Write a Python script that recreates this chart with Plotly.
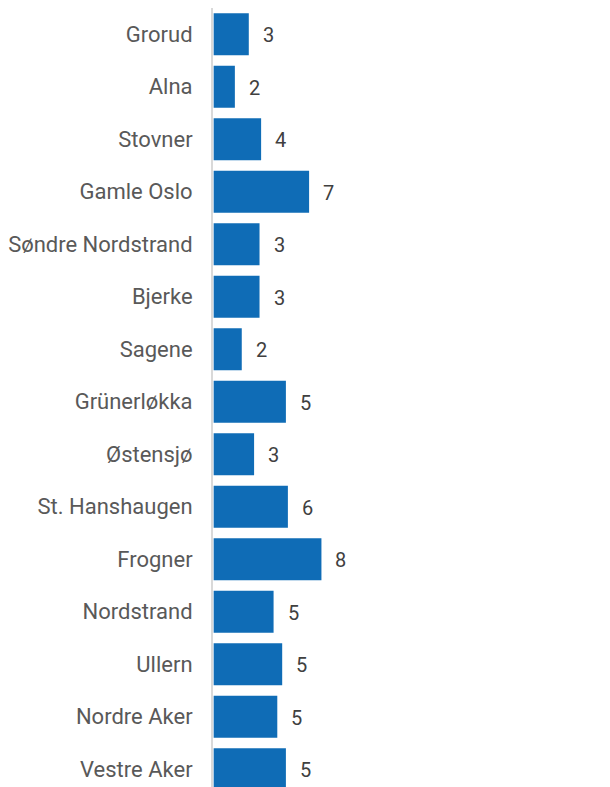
import plotly.graph_objects as go

districts = ["Grorud", "Alna", "Stovner", "Gamle Oslo", "Søndre Nordstrand", "Bjerke",
             "Sagene", "Grünerløkka", "Østensjø", "St. Hanshaugen", "Frogner",
             "Nordstrand", "Ullern", "Nordre Aker", "Vestre Aker"]
values = [2.65, 1.6, 3.58, 7.2, 3.46, 3.46, 2.12, 5.45, 3.05, 5.6, 8.13, 4.52, 5.17, 4.8, 5.45]

BAR = "#0F6CB6"
TXT = "#404040"
FONT = "Roboto"

fig = go.Figure()
fig.add_trace(go.Bar(
    y=districts, x=values, orientation="h",
    marker=dict(color=BAR, line=dict(width=0)),
    width=0.8,
    hoverinfo="skip",
))
for d, v in zip(districts, values):
    fig.add_annotation(x=v, y=d, text=f"{v:.0f}", showarrow=False,
                       xanchor="left", xshift=12, yshift=-1,
                       font=dict(size=20, color=TXT, family=FONT))

n = len(districts)
fig.update_layout(
    width=610, height=787,
    margin=dict(l=213, r=0, t=8, b=0),
    paper_bgcolor="white", plot_bgcolor="white",
    showlegend=False,
    font=dict(family=FONT, size=20, color="#595959"),
    xaxis=dict(range=[-0.05, 29.9], showgrid=False, zeroline=False, showticklabels=False,
               showline=False, fixedrange=True),
    yaxis=dict(categoryorder="array", categoryarray=districts,
               range=[n - 0.66, -0.5], showgrid=False, zeroline=False,
               showline=True, linecolor="#D9D9D9", linewidth=2,
               ticks="", ticklabelstandoff=14,
               tickfont=dict(size=22, color="#595959", family=FONT)),
)
fig.write_html("out.html", config={"displayModeBar": False},
               post_script="document.body.style.margin='0';document.body.style.overflow='hidden';")
